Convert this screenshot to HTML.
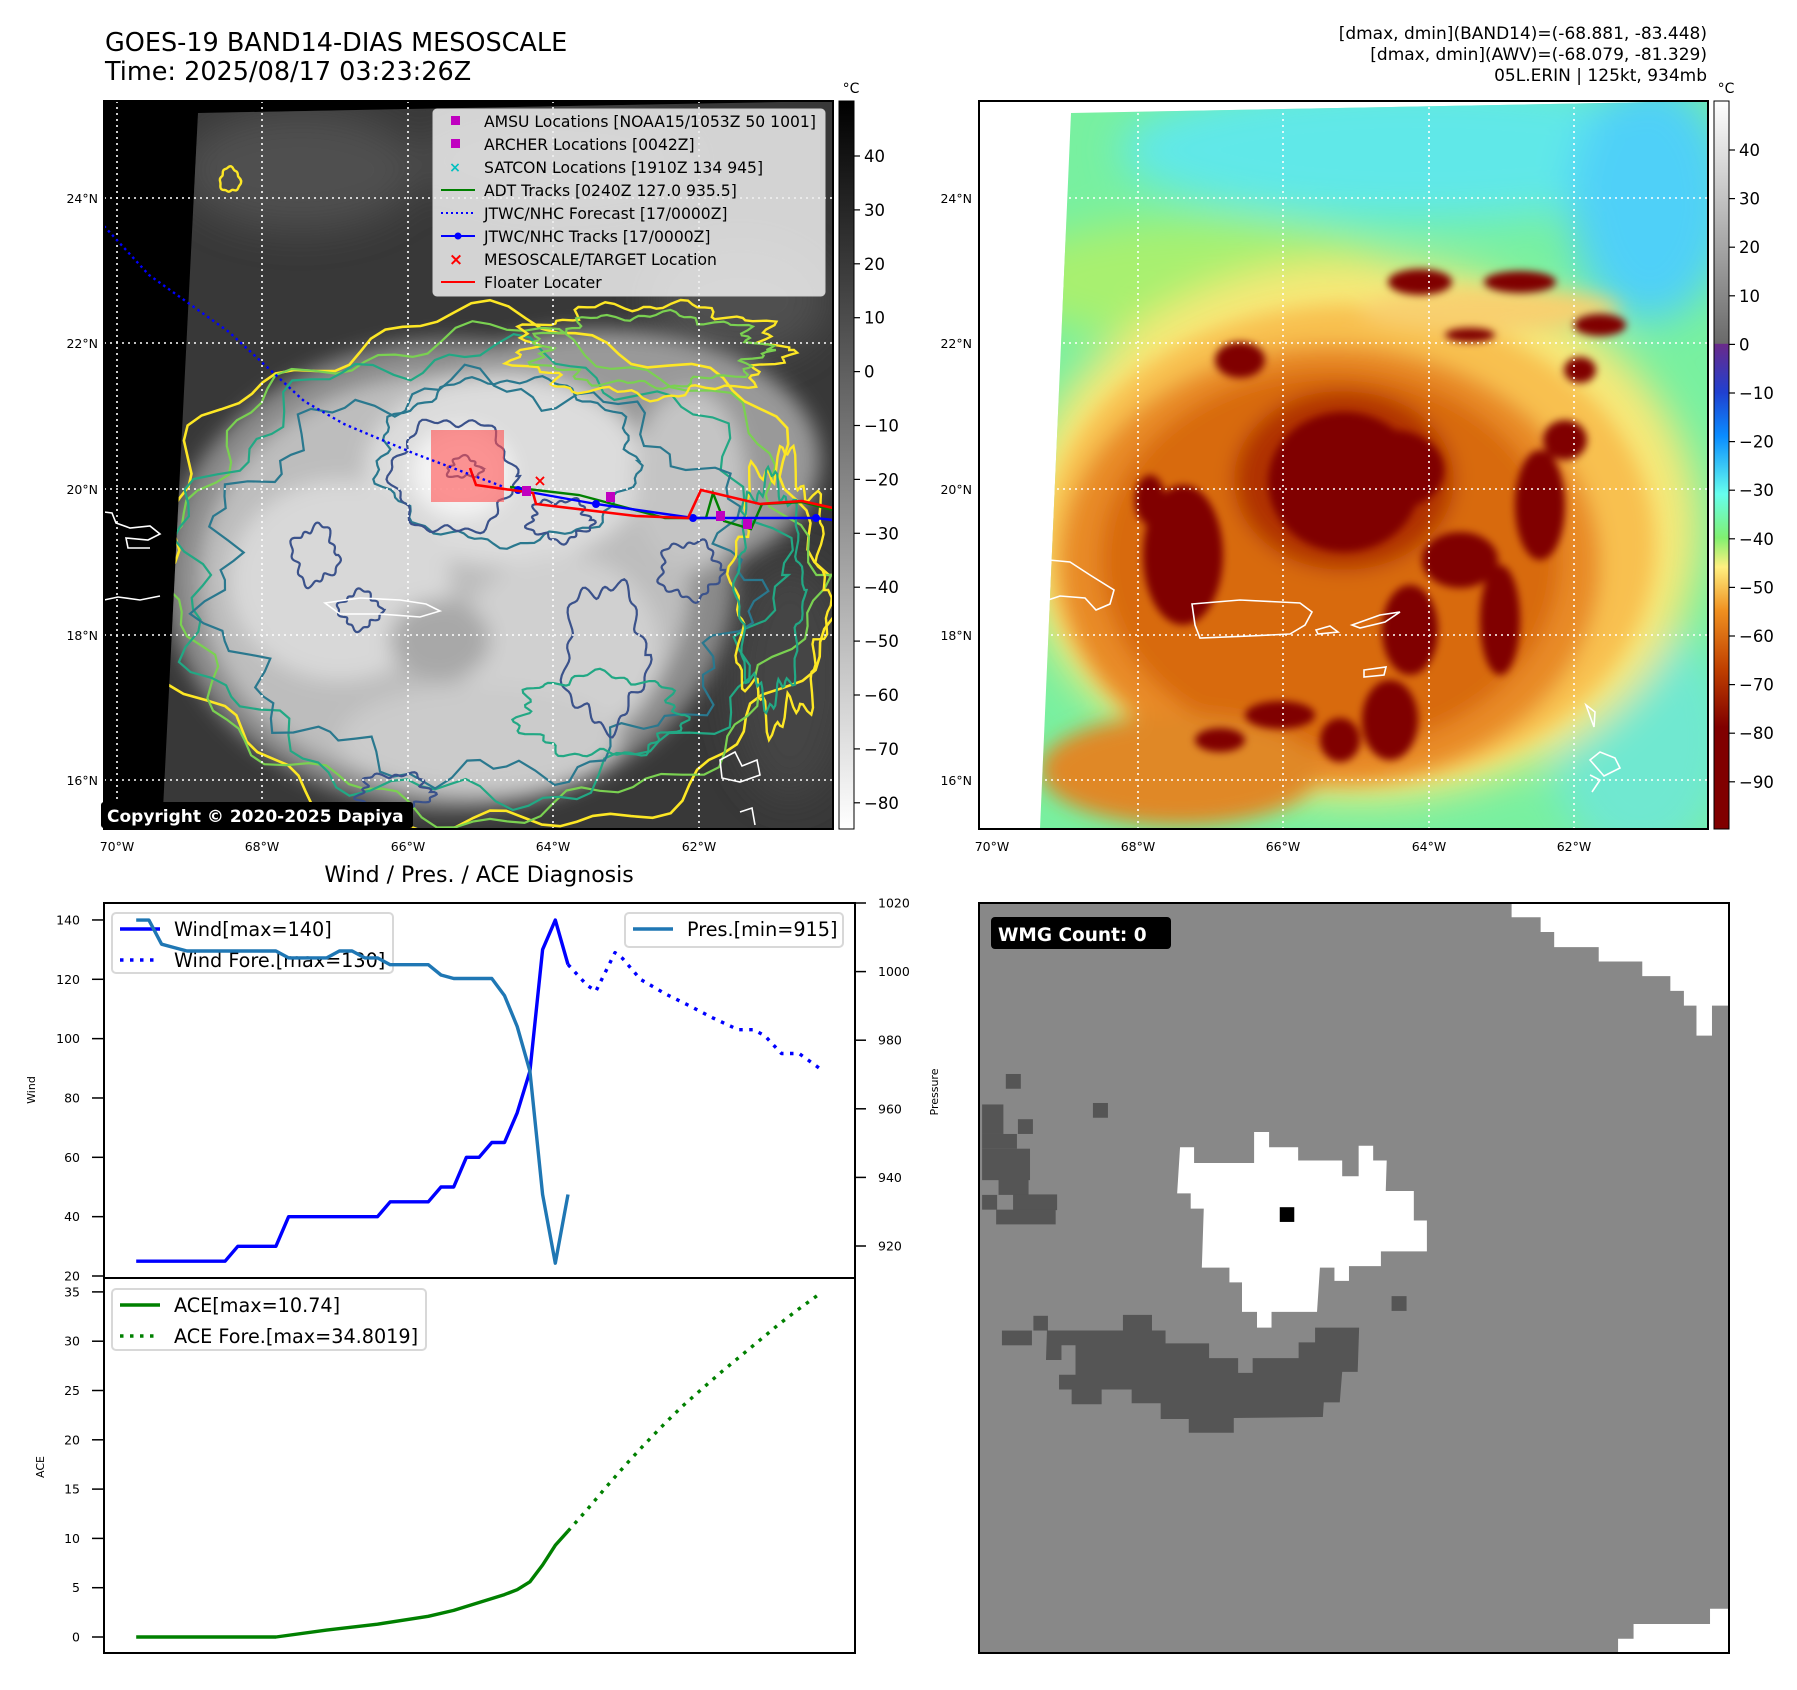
<!DOCTYPE html>
<html><head><meta charset="utf-8">
<style>
html,body{margin:0;padding:0;background:#fff;}
body{width:1797px;height:1690px;position:relative;overflow:hidden;font-family:"DejaVu Sans","Liberation Sans",sans-serif;}
svg{position:absolute;left:0;top:0;}
text{font-family:"DejaVu Sans","Liberation Sans",sans-serif;}
</style></head>
<body>
<svg id="fig" width="1797" height="1690" viewBox="0 0 1797 1690">
<defs>
  <filter id="b4" x="-20%" y="-20%" width="140%" height="140%"><feGaussianBlur stdDeviation="4"/></filter>
  <filter id="b10" x="-30%" y="-30%" width="160%" height="160%"><feGaussianBlur stdDeviation="10"/></filter>
  <filter id="b20" x="-40%" y="-40%" width="180%" height="180%"><feGaussianBlur stdDeviation="20"/></filter>
  <clipPath id="clipL"><polygon points="198,113 833,101 833,829 162,829"/></clipPath>
  <clipPath id="clipR"><polygon points="1071,113 1708,101 1708,829 1040,829"/></clipPath>
  <clipPath id="axL"><rect x="104" y="101" width="729" height="728"/></clipPath>
  <linearGradient id="cbGray" x1="0" y1="0" x2="0" y2="1">
    <stop offset="0" stop-color="#000"/><stop offset="1" stop-color="#fff"/>
  </linearGradient>
  <linearGradient id="cbJet" x1="0" y1="0" x2="0" y2="1">
    <stop offset="0" stop-color="#ffffff"/>
    <stop offset="0.333" stop-color="#6a6a6a"/>
    <stop offset="0.334" stop-color="#6a2a8a"/>
    <stop offset="0.40" stop-color="#2040d0"/>
    <stop offset="0.46" stop-color="#0a8cff"/>
    <stop offset="0.54" stop-color="#66ffee"/>
    <stop offset="0.60" stop-color="#80f070"/>
    <stop offset="0.64" stop-color="#fff080"/>
    <stop offset="0.70" stop-color="#f09020"/>
    <stop offset="0.78" stop-color="#c04000"/>
    <stop offset="0.86" stop-color="#800000"/>
    <stop offset="1" stop-color="#800000"/>
  </linearGradient>
</defs>

<!-- titles -->
<text x="105" y="51" font-size="25.5">GOES-19 BAND14-DIAS MESOSCALE</text>
<text x="105" y="80" font-size="25.5">Time: 2025/08/17 03:23:26Z</text>
<g font-size="17" text-anchor="end">
  <text x="1707" y="39">[dmax, dmin](BAND14)=(-68.881, -83.448)</text>
  <text x="1707" y="60">[dmax, dmin](AWV)=(-68.079, -81.329)</text>
  <text x="1707" y="81">05L.ERIN | 125kt, 934mb</text>
</g>

<!-- ============ LEFT MAP ============ -->
<g>
  <rect x="104" y="101" width="729" height="728" fill="#000"/>
  <g clip-path="url(#clipL)">
    <rect x="150" y="100" width="700" height="740" fill="#383838"/>
    <g filter="url(#b20)">
      <ellipse cx="300" cy="170" rx="120" ry="60" fill="#505050"/>
      <ellipse cx="560" cy="160" rx="140" ry="50" fill="#4c4c4c"/>
      <ellipse cx="740" cy="300" rx="90" ry="60" fill="#505050"/>
      <ellipse cx="790" cy="680" rx="60" ry="120" fill="#454545"/>
    </g>
    <g filter="url(#b10)">
      <ellipse cx="450" cy="575" rx="285" ry="235" fill="#8a8a8a"/>
      <ellipse cx="600" cy="460" rx="220" ry="130" fill="#999"/>
      <ellipse cx="445" cy="580" rx="245" ry="205" fill="#bdbdbd"/>
      <ellipse cx="505" cy="470" rx="140" ry="95" fill="#dcdcdc"/>
      <ellipse cx="340" cy="580" rx="110" ry="100" fill="#d8d8d8"/>
      <ellipse cx="560" cy="650" rx="100" ry="95" fill="#d0d0d0"/>
      <ellipse cx="480" cy="740" rx="140" ry="55" fill="#cbcbcb"/>
      <ellipse cx="690" cy="480" rx="55" ry="90" fill="#c4c4c4"/>
      <ellipse cx="462" cy="472" rx="50" ry="45" fill="#f4f4f4"/>
      <ellipse cx="440" cy="640" rx="50" ry="40" fill="#a8a8a8"/>
    </g>
    <g id="contours" fill="none" stroke-width="2.2"></g>
  </g>
  <g stroke="#fff" stroke-width="1.6" stroke-dasharray="2,4">
    <line x1="104" x2="833" y1="198" y2="198"/><line x1="104" x2="833" y1="343" y2="343"/>
    <line x1="104" x2="833" y1="489" y2="489"/><line x1="104" x2="833" y1="635" y2="635"/>
    <line x1="104" x2="833" y1="780" y2="780"/>
    <line y1="101" y2="829" x1="117" x2="117"/><line y1="101" y2="829" x1="262" x2="262"/>
    <line y1="101" y2="829" x1="408" x2="408"/><line y1="101" y2="829" x1="553" x2="553"/>
    <line y1="101" y2="829" x1="699" x2="699"/>
  </g>
  <g fill="none" stroke="#fff" stroke-width="1.6">
    <path d="M104,512 L112,513 L116,523 L130,528 L150,526 L160,534 L148,540 L126,538 L128,548 L150,548"/>
    <path d="M104,600 L118,597 L140,600 L160,596"/>
    <path d="M325,603 L360,598 L400,600 L426,604 L440,611 L420,617 L380,614 L340,614 Z"/>
    <path d="M720,760 L735,752 L742,766 L757,760 L760,775 L740,782 L722,778 Z"/>
    <path d="M740,812 L752,808 L755,825"/>
  </g>
  <g clip-path="url(#axL)">
    <rect x="431" y="430" width="73" height="72" fill="#ff5050" opacity="0.6"/>
    <polyline points="104,226 149,275 229,332 304,401 344,424 413,453 458,470 504,487" fill="none" stroke="#0000ff" stroke-width="2.4" stroke-dasharray="2.5,3.5"/>
    <polyline points="510,487 579,495 665,518 706,518 713,493 724,521 751,529 762,504 802,502 833,510" fill="none" stroke="#008000" stroke-width="2.4"/>
    <polyline points="518,490 596,504 693,518 816,518 833,520" fill="none" stroke="#0000ff" stroke-width="2.4"/>
    <g fill="#0000ff"><circle cx="518" cy="490" r="4"/><circle cx="596" cy="504" r="4"/><circle cx="693" cy="518" r="4"/><circle cx="816" cy="518" r="4"/></g>
    <polyline points="470,468 476,485 533,493 536,504 636,516 688,518 701,490 760,504 802,501 833,508" fill="none" stroke="#ff0000" stroke-width="2.6"/>
    <g fill="#c000c0">
      <rect x="522" y="486" width="9" height="10"/><rect x="606" y="492" width="9" height="10"/>
      <rect x="716" y="511" width="9" height="10"/><rect x="743" y="519" width="9" height="10"/>
    </g>
    <text x="540" y="486" fill="#f00" font-size="16" font-weight="bold" text-anchor="middle">×</text>
  </g>
  <rect x="104" y="101" width="729" height="728" fill="none" stroke="#000" stroke-width="2"/>
</g>
<g>
  <rect x="433" y="109" width="392" height="187" rx="4" fill="#eeeeee" fill-opacity="0.85" stroke="#d0d0d0"/>
  <g font-size="15.6" fill="#000">
    <rect x="451" y="116" width="9" height="9" fill="#c000c0"/><text x="484" y="127">AMSU Locations [NOAA15/1053Z 50 1001]</text>
    <rect x="451" y="139" width="9" height="9" fill="#c000c0"/><text x="484" y="150">ARCHER Locations [0042Z]</text>
    <text x="455" y="172" fill="#00c0c0" font-size="14" font-weight="bold" text-anchor="middle">×</text><text x="484" y="173">SATCON Locations [1910Z 134 945]</text>
    <line x1="441" x2="475" y1="190" y2="190" stroke="#008000" stroke-width="2"/><text x="484" y="196">ADT Tracks [0240Z 127.0 935.5]</text>
    <line x1="441" x2="475" y1="213" y2="213" stroke="#0000ff" stroke-width="2" stroke-dasharray="2,3"/><text x="484" y="219">JTWC/NHC Forecast [17/0000Z]</text>
    <line x1="441" x2="475" y1="236" y2="236" stroke="#0000ff" stroke-width="2"/><circle cx="458" cy="236" r="3.5" fill="#0000ff"/><text x="484" y="242">JTWC/NHC Tracks [17/0000Z]</text>
    <text x="456" y="265" fill="#f00" font-size="17" font-weight="bold" text-anchor="middle">×</text><text x="484" y="265">MESOSCALE/TARGET Location</text>
    <line x1="441" x2="475" y1="282" y2="282" stroke="#ff0000" stroke-width="2"/><text x="484" y="288">Floater Locater</text>
  </g>
</g>
<g>
  <rect x="101" y="802" width="312" height="26" rx="3" fill="#000"/>
  <text x="107" y="822" fill="#fff" font-size="17" font-weight="bold">Copyright © 2020-2025 Dapiya</text>
</g>
<g>
  <rect x="839" y="101" width="15" height="728" fill="url(#cbGray)" stroke="#000" stroke-width="1"/>
  <text x="851" y="93" font-size="14" text-anchor="middle">°C</text>
  <g id="cbL" font-size="16.5"></g>
</g>
<g font-size="12.5" text-anchor="end">
  <text x="98" y="203">24°N</text><text x="98" y="348">22°N</text><text x="98" y="494">20°N</text><text x="98" y="640">18°N</text><text x="98" y="785">16°N</text>
</g>
<g font-size="12.5" text-anchor="middle">
  <text x="117" y="851">70°W</text><text x="262" y="851">68°W</text><text x="408" y="851">66°W</text><text x="553" y="851">64°W</text><text x="699" y="851">62°W</text>
</g>

<!-- ============ RIGHT MAP ============ -->
<g>
  <rect x="979" y="101" width="729" height="728" fill="#fff"/>
  <g clip-path="url(#clipR)">
    <rect x="1030" y="100" width="690" height="740" fill="#78f0a0"/>
    <g filter="url(#b20)">
      <ellipse cx="1420" cy="150" rx="300" ry="70" fill="#60e8e8"/>
      <ellipse cx="1650" cy="200" rx="80" ry="120" fill="#50d0f8"/>
      <ellipse cx="1200" cy="280" rx="200" ry="60" fill="#a8f070"/>
      <ellipse cx="1640" cy="740" rx="90" ry="120" fill="#70e8d0"/>
      <ellipse cx="1360" cy="530" rx="340" ry="270" fill="#f8e878"/>
    </g>
    <g filter="url(#b10)">
      <ellipse cx="1350" cy="545" rx="305" ry="240" fill="#f8c050"/>
      <ellipse cx="1330" cy="565" rx="270" ry="220" fill="#e88a28"/>
      <ellipse cx="1330" cy="560" rx="230" ry="190" fill="#d86a10"/>
      <ellipse cx="1180" cy="770" rx="140" ry="55" fill="#e08828"/>
      <ellipse cx="1344" cy="480" rx="110" ry="90" fill="#b03000"/>
      <ellipse cx="1490" cy="310" rx="130" ry="22" fill="#f8d070"/>
    </g>
    <g filter="url(#b4)" fill="#800000">
      <ellipse cx="1344" cy="482" rx="76" ry="70"/>
      <ellipse cx="1392" cy="470" rx="52" ry="40"/>
      <ellipse cx="1183" cy="555" rx="40" ry="70"/>
      <ellipse cx="1150" cy="500" rx="15" ry="25"/>
      <ellipse cx="1540" cy="505" rx="25" ry="55"/>
      <ellipse cx="1565" cy="440" rx="22" ry="20"/>
      <ellipse cx="1460" cy="560" rx="38" ry="28"/>
      <ellipse cx="1500" cy="620" rx="20" ry="55"/>
      <ellipse cx="1410" cy="630" rx="28" ry="45"/>
      <ellipse cx="1390" cy="720" rx="28" ry="40"/>
      <ellipse cx="1280" cy="715" rx="35" ry="14"/>
      <ellipse cx="1340" cy="740" rx="20" ry="22"/>
      <ellipse cx="1220" cy="740" rx="25" ry="12"/>
      <ellipse cx="1420" cy="282" rx="32" ry="13"/>
      <ellipse cx="1520" cy="282" rx="36" ry="11"/>
      <ellipse cx="1600" cy="325" rx="26" ry="11"/>
      <ellipse cx="1240" cy="360" rx="25" ry="18"/>
      <ellipse cx="1470" cy="335" rx="25" ry="7"/>
      <ellipse cx="1580" cy="370" rx="16" ry="13"/>
    </g>
  </g>
  <g stroke="#fff" stroke-width="1.6" stroke-dasharray="2,4">
    <line x1="979" x2="1708" y1="198" y2="198"/><line x1="979" x2="1708" y1="343" y2="343"/>
    <line x1="979" x2="1708" y1="489" y2="489"/><line x1="979" x2="1708" y1="635" y2="635"/>
    <line x1="979" x2="1708" y1="780" y2="780"/>
    <line y1="101" y2="829" x1="1138" x2="1138"/><line y1="101" y2="829" x1="1283" x2="1283"/>
    <line y1="101" y2="829" x1="1429" x2="1429"/><line y1="101" y2="829" x1="1574" x2="1574"/>
  </g>
  <g fill="none" stroke="#fff" stroke-width="1.6">
    <path d="M1049,560 L1070,562 L1090,575 L1114,590 L1110,604 L1096,610 L1085,598 L1060,596 L1048,600"/>
    <path d="M1192,604 L1240,600 L1300,603 L1312,612 L1305,625 L1290,634 L1250,636 L1200,638 L1195,625 Z"/>
    <path d="M1316,630 L1330,626 L1338,632 L1318,634 Z"/>
    <path d="M1352,625 L1380,615 L1400,612 L1385,622 L1360,628 Z"/>
    <path d="M1364,670 L1386,667 L1384,675 L1364,677 Z"/>
    <path d="M1586,705 L1595,712 L1594,727 Z"/>
    <path d="M1590,760 L1600,752 L1615,758 L1620,768 L1604,776 Z"/>
    <path d="M1590,775 L1600,780 L1592,792"/>
  </g>
  <rect x="979" y="101" width="729" height="728" fill="none" stroke="#000" stroke-width="2"/>
</g>
<g>
  <rect x="1714" y="101" width="15" height="728" fill="url(#cbJet)" stroke="#000" stroke-width="1"/>
  <text x="1726" y="93" font-size="14" text-anchor="middle">°C</text>
  <g id="cbR" font-size="16.5"></g>
</g>
<g font-size="12.5" text-anchor="end">
  <text x="972" y="203">24°N</text><text x="972" y="348">22°N</text><text x="972" y="494">20°N</text><text x="972" y="640">18°N</text><text x="972" y="785">16°N</text>
</g>
<g font-size="12.5" text-anchor="middle">
  <text x="992" y="851">70°W</text><text x="1138" y="851">68°W</text><text x="1283" y="851">66°W</text><text x="1429" y="851">64°W</text><text x="1574" y="851">62°W</text>
</g>

<!-- ============ BOTTOM-LEFT CHART ============ -->
<text x="479" y="882" font-size="22" text-anchor="middle">Wind / Pres. / ACE Diagnosis</text>
<g id="chart"></g>

<!-- ============ BOTTOM-RIGHT WMG ============ -->
<g>
  <rect x="979" y="903" width="750" height="750" fill="#888888"/>
  <g transform="translate(985,900) scale(0.484,0.4915)">
    <polygon fill="#fff" points="1088,6 1537,6 1537,215 1502,215 1502,276 1470,276 1470,215 1444,215 1444,185 1416,185 1416,155 1358,155 1358,125 1268,125 1268,96 1176,96 1176,65 1148,65 1148,35 1088,35"/>
    <polygon fill="#fff" points="1308,1532 1308,1503 1340,1503 1340,1473 1498,1473 1498,1442 1537,1442 1537,1532"/>
    <polygon fill="#fff" points="403,503 432,503 432,535 556,535 556,472 587,472 587,503 647,503 647,530 738,530 738,562 772,562 772,500 802,500 802,530 830,530 828,592 886,592 886,652 913,652 913,715 818,715 818,745 752,745 752,775 722,775 722,748 692,748 686,838 592,838 592,870 562,870 562,838 531,838 531,778 505,778 505,748 448,748 452,628 425,628 425,597 397,597"/>
    <g fill="#555555">
      <rect x="43" y="354" width="31" height="30"/><rect x="223" y="413" width="31" height="30"/>
      <rect x="68" y="446" width="31" height="30"/><rect x="-6" y="416" width="44" height="60"/>
      <rect x="-6" y="476" width="72" height="30"/><rect x="-6" y="506" width="99" height="64"/>
      <rect x="28" y="566" width="62" height="34"/><rect x="-6" y="600" width="31" height="30"/>
      <rect x="58" y="599" width="91" height="32"/><rect x="23" y="630" width="123" height="30"/>
      <rect x="840" y="806" width="31" height="30"/><rect x="100" y="846" width="30" height="30"/>
      <rect x="35" y="876" width="62" height="30"/>
      <polygon points="128,876 285,876 285,844 345,844 345,876 373,876 373,902 463,902 463,932 523,932 523,962 553,962 553,932 648,932 648,900 682,900 682,870 773,870 770,960 738,960 733,1022 700,1022 698,1052 514,1054 514,1084 421,1084 421,1056 363,1056 363,1024 303,1024 303,996 241,996 241,1026 179,1026 179,996 153,996 153,966 187,966 187,906 158,906 158,936 126,936"/>
    </g>
    <rect x="609" y="625" width="30" height="30" fill="#000"/>
  </g>
  <rect x="979" y="903" width="750" height="750" fill="none" stroke="#000" stroke-width="2"/>
  <rect x="991" y="917" width="180" height="32" rx="4" fill="#000"/>
  <text x="998" y="941" fill="#fff" font-size="18.5" font-weight="bold">WMG Count: 0</text>
</g>

<script>
const obsT = [0,1,2,3,4,5,6,7,8,9,10,11,12,13,14,15,16,17,18,19,20,21,22,23,24,25,26,27,28,29,30,31,32,33,34];
const windObs = [25,25,25,25,25,25,25,25,30,30,30,30,40,40,40,40,40,40,40,40,45,45,45,45,50,50,60,60,65,65,75,89,130,140,125];
const presObs = [1015,1015,1008,1007,1006,1006,1006,1006,1006,1006,1006,1006,1004,1004,1004,1004,1006,1006,1004,1004,1002,1002,1002,1002,999,998,998,998,998,993,984,971,935,915,935];
const foreT = [34,35.5,36.2,37.7,38.3,39.7,41.7,43.6,45.4,47.4,48.6,49.5,50.8,52.2,53.8];
const windFore = [125,118,116,129,127,120,115,111,107,103,103,101,95,95,90];
const aceT = [0,11,15,19,23,25,27,29,30,31,32,33,34];
const aceObs = [0,0,0.7,1.3,2.1,2.7,3.5,4.3,4.8,5.6,7.3,9.3,10.74];
const aceForeT = [34,35.5,37,38.5,40,41.5,43,44.5,46,47.5,49,50.5,52,53.8];
const aceFore = [10.74,12.9,15.2,17.4,19.5,21.5,23.4,25.1,26.8,28.4,30.0,31.6,33.1,34.8];
const windTicks = [20,40,60,80,100,120,140];
const presTicks = [920,940,960,980,1000,1020];
const aceTicks = [0,5,10,15,20,25,30,35];
const grayCbTicks = [40,30,20,10,0,-10,-20,-30,-40,-50,-60,-70,-80];
const jetCbTicks = [40,30,20,10,0,-10,-20,-30,-40,-50,-60,-70,-80,-90];

const NS = 'http://www.w3.org/2000/svg';
function mk(tag, attrs, parent){const e=document.createElementNS(NS,tag);for(const k in attrs)e.setAttribute(k,attrs[k]);parent.appendChild(e);return e;}

const xT = t => 136.2 + t*12.7;
const yW = v => 1276 - (v-20)*2.967;
const yP = p => 903 + (1020-p)*3.43;
const yA = v => 1637 - v*9.86;

const chart = document.getElementById('chart');
const f1 = mk('rect',{x:104,y:903,width:751,height:375,fill:'none',stroke:'#000','stroke-width':2},chart);


const f2 = mk('rect',{x:104,y:1278,width:751,height:375,fill:'none',stroke:'#000','stroke-width':2},chart);



function tickL(y,label,name){
  const g = mk('g',{},chart);
  
  
  mk('line',{x1:92,x2:104,y1:y,y2:y,stroke:'#000','stroke-width':1.5},g);
  const t = mk('text',{x:80,y:y+4.5,'font-size':12.5,'text-anchor':'end'},g); t.textContent=label;
}
windTicks.forEach(v=>tickL(yW(v),v,'wind-tick'));
aceTicks.forEach(v=>tickL(yA(v),v,'ace-tick'));
presTicks.forEach(p=>{
  const g = mk('g',{},chart);
  
  
  const y=yP(p);
  mk('line',{x1:855,x2:866,y1:y,y2:y,stroke:'#000','stroke-width':1.5},g);
  const t = mk('text',{x:878,y:y+4.5,'font-size':12.5},g); t.textContent=p;
});
function vlabel(x,y,txt,name){
  const t = mk('text',{x:x,y:y,'font-size':11,'text-anchor':'middle',transform:`rotate(-90 ${x} ${y})`},chart);
  t.textContent=txt;
  
  
}
vlabel(35,1090,'Wind','wind-axis-title');
vlabel(938,1092,'Pressure','pressure-axis-title');
vlabel(44,1467,'ACE','ace-axis-title');

function line(ts,vs,yf,color,dash,name){
  const pts = ts.map((t,i)=>xT(t).toFixed(1)+','+yf(vs[i]).toFixed(1)).join(' ');
  const a = {points:pts,fill:'none',stroke:color,'stroke-width':3.4,'stroke-linejoin':'round'};
  if(dash) a['stroke-dasharray']=dash;
  const p = mk('polyline',a,chart);
  
  
}
line(obsT,windObs,yW,'#0000ff',null,'wind-line');
line(foreT,windFore,yW,'#0000ff','3.5,6.5','wind-forecast-line');
line(aceT,aceObs,yA,'#008000',null,'ace-line');
line(aceForeT,aceFore,yA,'#008000','3.5,6.5','ace-forecast-line');

function legend(x,y,w,h,items,name){
  const g = mk('g',{},chart);
  
  
  mk('rect',{x:x,y:y,width:w,height:h,rx:4,fill:'#fff','fill-opacity':0.8,stroke:'#d8d8d8','stroke-width':2},g);
  items.forEach((it,i)=>{
    const yy = y+16+i*31;
    const a={x1:x+8,x2:x+48,y1:yy,y2:yy,stroke:it[1],'stroke-width':3.4};
    if(it[2]) a['stroke-dasharray']='3.5,6.5';
    mk('line',a,g);
    const t = mk('text',{x:x+62,y:yy+7,'font-size':19.2},g); t.textContent=it[0];
  });
}
legend(112,913,281,60,[['Wind[max=140]','#0000ff',false],['Wind Fore.[max=130]','#0000ff',true]],'wind-legend');
legend(112,1289,314,61,[['ACE[max=10.74]','#008000',false],['ACE Fore.[max=34.8019]','#008000',true]],'ace-legend');
line(obsT,presObs,yP,'#1f77b4',null,'pressure-line');
legend(625,913,218,34,[['Pres.[min=915]','#1f77b4',false]],'pressure-legend');

const cbL = document.getElementById('cbL');
grayCbTicks.forEach(v=>{
  const y = 156 + (40-v)*5.39;
  mk('line',{x1:854,x2:860,y1:y,y2:y,stroke:'#000','stroke-width':1.2},cbL);
  const t = mk('text',{x:864,y:y+6},cbL); t.textContent = v<0?('\u2212'+(-v)):v;
  
  
});
const cbR = document.getElementById('cbR');
jetCbTicks.forEach(v=>{
  const y = 150 + (40-v)*4.86;
  mk('line',{x1:1729,x2:1735,y1:y,y2:y,stroke:'#000','stroke-width':1.2},cbR);
  const t = mk('text',{x:1739,y:y+6},cbR); t.textContent = v<0?('\u2212'+(-v)):v;
  
  
});

const cg = document.getElementById('contours');
function wavy(cx,cy,rx,ry,amp,k,ph,color,w){
  let d='';
  for(let i=0;i<=120;i++){
    const a=i/120*Math.PI*2;
    const r=1+amp*Math.sin(k*a+ph)+amp*0.6*Math.sin(2.7*k*a+ph*1.7);
    const x=cx+rx*r*Math.cos(a), y=cy+ry*r*Math.sin(a);
    d+=(i?'L':'M')+x.toFixed(1)+','+y.toFixed(1);
  }
  const p = mk('path',{d:d+'Z',stroke:color,'stroke-width':w||2.2},cg);
  
  
}
wavy(490,575,335,255,0.05,7,0.3,'#fde725',2.6);
wavy(490,575,318,240,0.05,8,1.1,'#7ad151');
wavy(480,575,295,222,0.06,9,2.0,'#22a884');
wavy(480,580,265,195,0.07,11,0.5,'#2a788e');
wavy(507,461,128,82,0.05,9,0.2,'#2a788e');
wavy(453,476,60,56,0.08,6,1.3,'#3b528b');
wavy(464,468,16,10,0.2,3,0.3,'#3b528b');
wavy(605,655,40,70,0.12,5,0.7,'#3b528b');
wavy(315,555,22,28,0.15,4,0.2,'#3b528b');
wavy(360,610,20,18,0.15,4,1.2,'#3b528b');
wavy(395,792,35,18,0.15,5,0.4,'#3b528b');
wavy(690,570,30,28,0.12,5,0.9,'#3b528b');
wavy(560,520,30,20,0.15,5,0.4,'#3b528b');
wavy(650,350,130,45,0.1,9,0.6,'#fde725',2.4);
wavy(650,350,112,35,0.1,9,1.6,'#7ad151');
wavy(780,590,45,130,0.12,8,0.3,'#fde725',2.4);
wavy(770,590,32,110,0.1,8,1.3,'#22a884');
wavy(230,180,10,12,0.1,3,0.3,'#fde725',2.4);
wavy(600,715,80,40,0.1,7,0.3,'#22a884');
</script>
</svg>
</body></html>
